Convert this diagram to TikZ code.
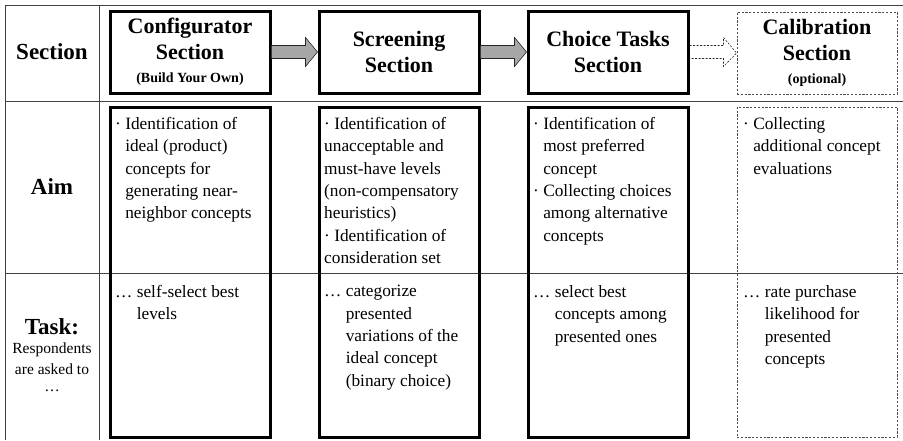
\documentclass[tikz,border=0pt]{standalone}
\usepackage{fontspec}
\setmainfont{Liberation Serif}
\usetikzlibrary{calc}

\def\boxWidth{160pt}
\def\headHeight{82pt}
\def\tallHeight{330pt}
\def\shaftHalf{6.5}
\def\headHalf{14.5}
\def\shaftLen{34}

\def\aimBullet{·\ }
\def\aimIndent{\phantom{·\ }}
\def\taskDots{…\ }
\def\taskIndent{\phantom{…\ }}

\newcommand\flowArrow[3]{%
    \draw [#3]
    ($(#1.east)+(0,-\shaftHalf)$) -- ++(\shaftLen,0)
    -- ++(0,{\shaftHalf-\headHalf})
    -- (#2.west)
    -- ($(#1.east)+(\shaftLen,\headHalf)$)
    -- ++(0,{\shaftHalf-\headHalf})
    -- ($(#1.east)+(0,\shaftHalf)$)
    ;
}

\tikzset{
    tableline/.style = {line width = 1pt, draw = black!75},
    secbox/.style = {draw, line width = 3pt, minimum width = \boxWidth,
        inner sep = 0pt, align = center},
    optbox/.style = {draw = black!70, line width = 0.8pt,
        dash pattern = on 2.2pt off 1.6pt, minimum width = \boxWidth,
        inner sep = 0pt, align = center},
    headfont/.style = {font = \fontsize{22}{26}\selectfont\bfseries},
    bodytext/.style = {anchor = north west, inner sep = 0pt, align = left,
        font = \fontsize{17.3}{22.4}\selectfont},
    rowlabel/.style = {align = center, inner sep = 0pt,
        font = \fontsize{23}{26}\selectfont\bfseries},
    flowarrow/.style = {draw = black!85, line width = 0.6pt, fill = black!35},
    optarrow/.style = {draw = black!85, line width = 0.6pt,
        dash pattern = on 2pt off 1.5pt},
}

\newcommand\subLine[1]{{\fontsize{14}{16}\selectfont #1}}
\newcommand\noteLine[1]{{\fontsize{15.5}{19}\selectfont\mdseries #1}}

\begin{document}
\begin{tikzpicture}[x = 1pt, y = -1pt]
    \useasboundingbox (0,0) rectangle (903,440);
    %% table
    \draw [tableline]
    (5,440) -- (5,5) -- (903,5)
    (99,5) -- (99,440)
    (5,101) -- (903,101)
    (5,273) -- (903,273)
    ;
    %% row labels
    \node [rowlabel] (lblSection) at (52,52) {Section};
    \node [rowlabel] (lblAim) at (52,187) {Aim};
    \node [rowlabel] (lblTask) at (52,355) {
        Task:\\[-7pt]
        \noteLine{Respondents}\\[-5pt]
        \noteLine{are asked to}\\[-9pt]
        \noteLine{…}
    };
    %% section boxes
    \node [secbox, headfont, minimum height = \headHeight] (cfg) at (190,52) {
        Configurator\\Section\\[-3pt]\subLine{(Build Your Own)}
    };
    \node [secbox, headfont, minimum height = \headHeight] (scr) at (399,52) {
        Screening\\Section
    };
    \node [secbox, headfont, minimum height = \headHeight] (cho) at (608,52) {
        Choice Tasks\\Section
    };
    \node [optbox, headfont, minimum height = \headHeight] (cal) at (817,53) {
        Calibration\\Section\\[-3pt]\subLine{(optional)}
    };
    %% arrows
    \flowArrow{cfg}{scr}{flowarrow}
    \flowArrow{scr}{cho}{flowarrow}
    \flowArrow{cho}{cal}{optarrow}
    %% tall boxes
    \node [secbox, minimum height = \tallHeight] (cfgBody) at (190,272) {};
    \node [secbox, minimum height = \tallHeight] (scrBody) at (399,272) {};
    \node [secbox, minimum height = \tallHeight] (choBody) at (608,272) {};
    \node [optbox, minimum height = \tallHeight] (calBody) at (817,272) {};
    %% aim texts
    \node [bodytext] (cfgAim) at (115,117) {
        \aimBullet Identification of\\
        \aimIndent ideal (product)\\
        \aimIndent concepts for\\
        \aimIndent generating near-\\
        \aimIndent neighbor concepts
    };
    \node [bodytext] (scrAim) at (324,117) {
        \aimBullet Identification of\\
        unacceptable and\\
        must-have levels\\
        (non-compensatory\\
        heuristics)\\
        \aimBullet Identification of\\
        consideration set
    };
    \node [bodytext] (choAim) at (533,117) {
        \aimBullet Identification of\\
        \aimIndent most preferred\\
        \aimIndent concept\\
        \aimBullet Collecting choices\\
        \aimIndent among alternative\\
        \aimIndent concepts
    };
    \node [bodytext] (calAim) at (743,117) {
        \aimBullet Collecting\\
        \aimIndent additional concept\\
        \aimIndent evaluations
    };
    %% task texts
    \node [bodytext] (cfgTask) at (115,285) {
        \taskDots self-select best\\
        \taskIndent levels
    };
    \node [bodytext] (scrTask) at (324,285) {
        \taskDots categorize\\
        \taskIndent presented\\
        \taskIndent variations of the\\
        \taskIndent ideal concept\\
        \taskIndent (binary choice)
    };
    \node [bodytext] (choTask) at (533,285) {
        \taskDots select best\\
        \taskIndent concepts among\\
        \taskIndent presented ones
    };
    \node [bodytext] (calTask) at (743,285) {
        \taskDots rate purchase\\
        \taskIndent likelihood for\\
        \taskIndent presented\\
        \taskIndent concepts
    };
\end{tikzpicture}
\end{document}
